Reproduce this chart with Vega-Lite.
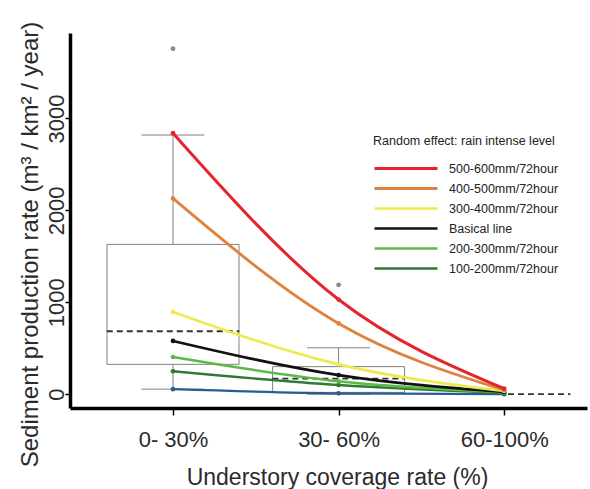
{
  "$schema": "https://vega.github.io/schema/vega-lite/v6.json",
  "width": 517,
  "height": 375,
  "autosize": {"type": "none"},
  "padding": {"left": 70, "top": 33, "right": 3, "bottom": 81},
  "background": "white",
  "config": {"view": {"stroke": null}, "font": "Liberation Sans"},
  "datasets": {
    "boxes": [
      {"idx": 1, "lower": 55, "q1": 325, "median": 685, "q3": 1630, "upper": 2820},
      {"idx": 2, "lower": 0, "q1": 20, "median": 170, "q3": 300, "upper": 505},
      {"idx": 3, "lower": 0, "q1": null, "median": 0, "q3": null, "upper": 0}
    ],
    "outliers": [
      {"idx": 1, "value": 3760},
      {"idx": 2, "value": 1190}
    ],
    "curves": [
      {"level": "0-100mm/72hour", "idx": 1, "value": 55},
      {"level": "0-100mm/72hour", "idx": 2, "value": 10},
      {"level": "0-100mm/72hour", "idx": 3, "value": 0},
      {"level": "100-200mm/72hour", "idx": 1, "value": 250},
      {"level": "100-200mm/72hour", "idx": 2, "value": 100},
      {"level": "100-200mm/72hour", "idx": 3, "value": 15},
      {"level": "200-300mm/72hour", "idx": 1, "value": 405},
      {"level": "200-300mm/72hour", "idx": 2, "value": 140},
      {"level": "200-300mm/72hour", "idx": 3, "value": 20},
      {"level": "Basical line", "idx": 1, "value": 580},
      {"level": "Basical line", "idx": 2, "value": 208},
      {"level": "Basical line", "idx": 3, "value": 25},
      {"level": "300-400mm/72hour", "idx": 1, "value": 895},
      {"level": "300-400mm/72hour", "idx": 2, "value": 325},
      {"level": "300-400mm/72hour", "idx": 3, "value": 35},
      {"level": "400-500mm/72hour", "idx": 1, "value": 2130},
      {"level": "400-500mm/72hour", "idx": 2, "value": 770},
      {"level": "400-500mm/72hour", "idx": 3, "value": 45},
      {"level": "500-600mm/72hour", "idx": 1, "value": 2840},
      {"level": "500-600mm/72hour", "idx": 2, "value": 1030},
      {"level": "500-600mm/72hour", "idx": 3, "value": 60}
    ]
  },
  "layer": [
    {
      "data": {"name": "boxes"},
      "mark": {"type": "rule", "color": "#808080", "strokeWidth": 1},
      "encoding": {
        "x": {
          "field": "idx", "type": "quantitative",
          "scale": {"domain": [0.378, 3.5], "nice": false, "zero": false, "padding": 0},
          "axis": {
            "values": [1, 2, 3],
            "labelExpr": "datum.value == 1 ? '0- 30%' : datum.value == 2 ? '30- 60%' : '60-100%'",
            "title": "Understory coverage rate (%)",
            "grid": false,
            "domainColor": "black", "domainWidth": 3.5,
            "tickColor": "black", "tickWidth": 1.5, "tickSize": 7,
            "labelFontSize": 22, "labelColor": "#2b2b2b",
            "labelBaseline": "alphabetic", "labelPadding": 31,
            "labelFlush": false, "labelOverlap": false,
            "titleFontSize": 23, "titleFontWeight": "normal", "titleColor": "#2b2b2b",
            "titleBaseline": "alphabetic", "titleAlign": "center",
            "titleX": 267, "titleY": 76
          }
        },
        "y": {
          "field": "lower", "type": "quantitative",
          "scale": {"domain": [-150, 3930], "nice": false, "zero": false, "padding": 0},
          "axis": {
            "values": [0, 1000, 2000, 3000],
            "format": "d",
            "title": "Sediment production rate (m³ / km² / year)",
            "grid": false,
            "domainColor": "black", "domainWidth": 3.5,
            "tickColor": "black", "tickWidth": 1.5, "tickSize": 5,
            "labelAngle": 270, "labelAlign": "center", "labelBaseline": "alphabetic",
            "labelPadding": 2, "labelFontSize": 22, "labelColor": "#2b2b2b",
            "labelOverlap": false,
            "titleFontSize": 24, "titleFontWeight": "normal", "titleColor": "#2b2b2b",
            "titleAngle": 270, "titleAlign": "center", "titleBaseline": "alphabetic",
            "titleX": -33, "titleY": 211
          }
        },
        "y2": {"field": "upper"}
      }
    },
    {
      "data": {"name": "boxes"},
      "mark": {"type": "bar", "fill": "white", "stroke": "#808080", "strokeWidth": 1, "size": 132},
      "encoding": {
        "x": {"field": "idx", "type": "quantitative"},
        "y": {"field": "q1", "type": "quantitative"},
        "y2": {"field": "q3"}
      }
    },
    {
      "data": {"name": "boxes"},
      "transform": [
        {"calculate": "datum.idx - 0.4", "as": "lo"},
        {"calculate": "datum.idx + 0.4", "as": "hi"}
      ],
      "mark": {"type": "rule", "color": "#333333", "strokeWidth": 1.8, "strokeDash": [6, 4]},
      "encoding": {
        "x": {"field": "lo", "type": "quantitative"},
        "x2": {"field": "hi"},
        "y": {"field": "median", "type": "quantitative"}
      }
    },
    {
      "data": {"name": "boxes"},
      "transform": [
        {"filter": "datum.idx < 3"},
        {"calculate": "datum.idx - 0.19", "as": "clo"},
        {"calculate": "datum.idx + 0.19", "as": "chi"}
      ],
      "mark": {"type": "rule", "color": "#808080", "strokeWidth": 1},
      "encoding": {
        "x": {"field": "clo", "type": "quantitative"},
        "x2": {"field": "chi"},
        "y": {"field": "upper", "type": "quantitative"}
      }
    },
    {
      "data": {"name": "boxes"},
      "transform": [
        {"filter": "datum.idx < 3"},
        {"calculate": "datum.idx - 0.19", "as": "clo"},
        {"calculate": "datum.idx + 0.19", "as": "chi"}
      ],
      "mark": {"type": "rule", "color": "#808080", "strokeWidth": 1},
      "encoding": {
        "x": {"field": "clo", "type": "quantitative"},
        "x2": {"field": "chi"},
        "y": {"field": "lower", "type": "quantitative"}
      }
    },
    {
      "data": {"name": "outliers"},
      "mark": {"type": "point", "filled": true, "color": "#8a8a8a", "size": 24, "opacity": 1},
      "encoding": {
        "x": {"field": "idx", "type": "quantitative"},
        "y": {"field": "value", "type": "quantitative"}
      }
    },
    {
      "data": {"name": "curves"},
      "mark": {"type": "line", "interpolate": "monotone"},
      "encoding": {
        "x": {"field": "idx", "type": "quantitative"},
        "y": {"field": "value", "type": "quantitative"},
        "color": {
          "field": "level", "type": "nominal",
          "scale": {
            "domain": ["500-600mm/72hour", "400-500mm/72hour", "300-400mm/72hour", "Basical line", "200-300mm/72hour", "100-200mm/72hour", "0-100mm/72hour"],
            "range": ["#e4252b", "#e0823f", "#efe94f", "#111111", "#5cb947", "#2d7b34", "#2a5b95"]
          },
          "legend": {
            "orient": "none", "legendX": 303, "legendY": 102,
            "values": ["500-600mm/72hour", "400-500mm/72hour", "300-400mm/72hour", "Basical line", "200-300mm/72hour", "100-200mm/72hour"],
            "title": "Random effect: rain intense level",
            "titleFontSize": 12.5, "titleFontWeight": "normal", "titleColor": "#222222",
            "titleLimit": 400, "labelLimit": 300,
            "labelFontSize": 12.5, "labelColor": "#222222",
            "symbolType": "stroke", "symbolSize": 3969, "symbolStrokeWidth": 3,
            "clipHeight": 20,
            "labelOffset": 10, "padding": 0, "rowPadding": 0, "titlePadding": 11
          }
        },
        "strokeWidth": {
          "field": "level", "type": "nominal", "legend": null,
          "scale": {
            "domain": ["500-600mm/72hour", "400-500mm/72hour", "300-400mm/72hour", "Basical line", "200-300mm/72hour", "100-200mm/72hour", "0-100mm/72hour"],
            "range": [3, 2.2, 4, 3, 3.5, 3, 2.2]
          }
        },
        "order": {"field": "idx"}
      }
    },
    {
      "data": {"name": "curves"},
      "mark": {"type": "point", "filled": true, "size": 22, "opacity": 1},
      "encoding": {
        "x": {"field": "idx", "type": "quantitative"},
        "y": {"field": "value", "type": "quantitative"},
        "color": {"field": "level", "type": "nominal", "legend": null}
      }
    }
  ]
}
